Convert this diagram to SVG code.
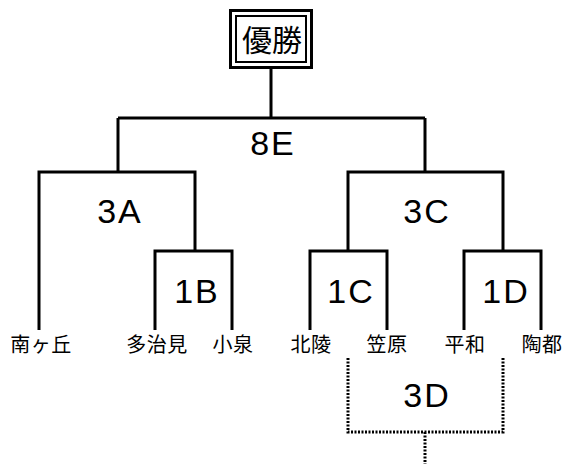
<svg xmlns="http://www.w3.org/2000/svg" width="568" height="464" viewBox="0 0 568 464">
<style>
.ln{fill:none;stroke:#000;stroke-width:3;stroke-linecap:butt;stroke-linejoin:miter}
.dt{fill:none;stroke:#000;stroke-width:3;stroke-dasharray:2 1.5}
.lbl{font-family:"Liberation Sans","Noto Sans CJK JP",sans-serif;font-size:34px;letter-spacing:2px;text-anchor:middle;fill:#000}
.team{font-family:"Noto Sans CJK JP",sans-serif;font-size:20px;letter-spacing:0.5px;text-anchor:middle;fill:#000}
</style>
<rect width="568" height="464" fill="#fff"/>
<g id="connectors">
<path class="ln" d="M271,68 V118 M118,118 H425 M118,118 V172 M425,118 V172"/>
<path class="ln" d="M39,330 V172 H195 V251 M155,330 V251 H232 V330"/>
<path class="ln" d="M348,251 V172 H503 V251 M310,330 V251 H387 V330 M464,330 V251 H541 V330"/>
<path class="dt" d="M348,358 V432 H503 V358 M425,432 V464"/>
</g>
<g id="champion">
<rect x="230.5" y="10.5" width="81" height="57" fill="#fff" stroke="#000" stroke-width="3"/>
<rect x="236" y="16" width="70" height="46" fill="none" stroke="#000" stroke-width="2"/>
<text x="272" y="51" font-family="Noto Sans CJK JP,sans-serif" font-size="30" text-anchor="middle">優勝</text>
</g>
<g id="m8E"><text class="lbl" x="273" y="155">8E</text></g>
<g id="m3A"><text class="lbl" x="120" y="223">3A</text></g>
<g id="m3C"><text class="lbl" x="427" y="223">3C</text></g>
<g id="m1B"><text class="lbl" x="197" y="303">1B</text></g>
<g id="m1C"><text class="lbl" x="351" y="303">1C</text></g>
<g id="m1D"><text class="lbl" x="506" y="303">1D</text></g>
<g id="m3D"><text class="lbl" x="427" y="407">3D</text></g>
<g id="t1"><text class="team" x="41" y="352">南ヶ丘</text></g>
<g id="t2"><text class="team" x="157" y="352">多治見</text></g>
<g id="t3"><text class="team" x="233" y="352">小泉</text></g>
<g id="t4"><text class="team" x="311" y="352">北陵</text></g>
<g id="t5"><text class="team" x="387" y="352">笠原</text></g>
<g id="t6"><text class="team" x="465" y="352">平和</text></g>
<g id="t7"><text class="team" x="542" y="352">陶都</text></g>
</svg>
